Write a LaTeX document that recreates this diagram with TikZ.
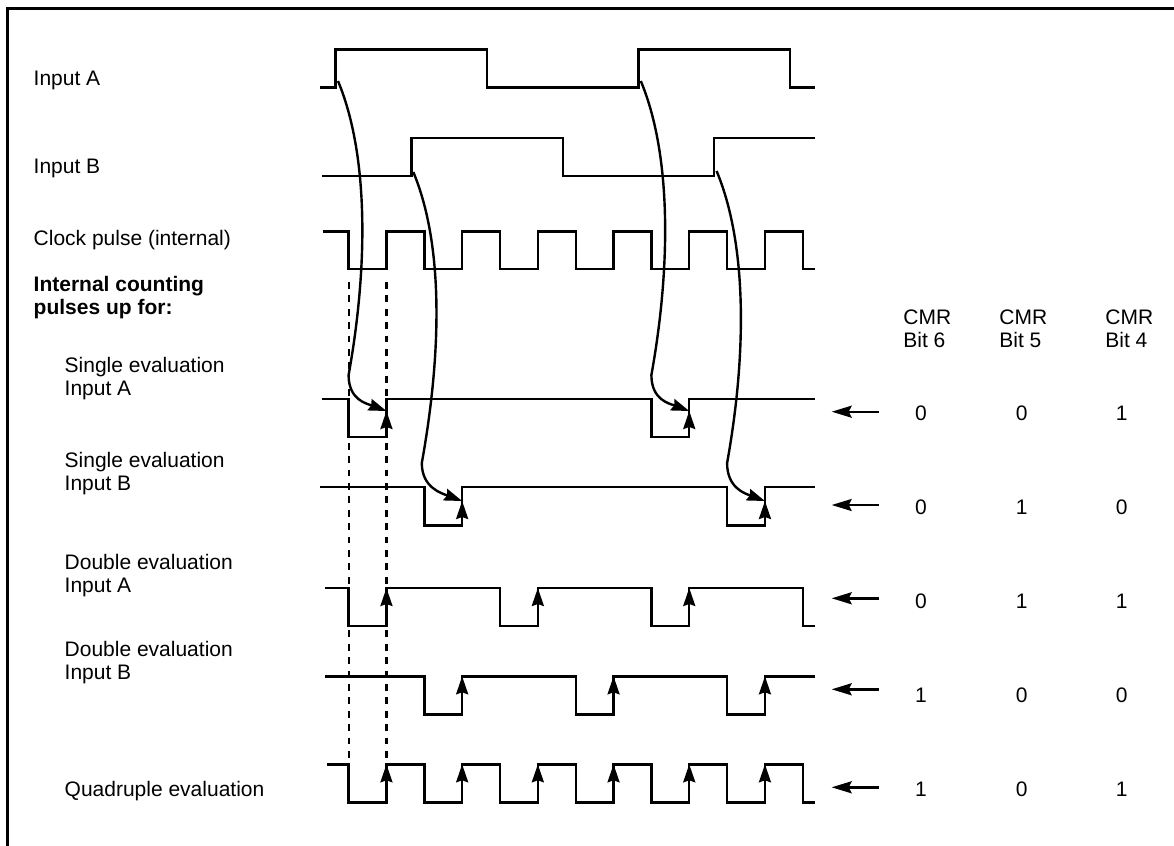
\documentclass[tikz,border=0pt]{standalone}
\usepackage{fontspec}
\setmainfont{Liberation Sans}
\usetikzlibrary{arrows.meta}

\begin{document}
\begin{tikzpicture}[
  x=0.5pt,
  y=-0.5pt,
  font=\fontsize{10.5}{11.5}\selectfont,
  declare function={E(\k)=348.6+37.85*\k;},
  wave/.style={line width=1.2pt},
  boxline/.style={line width=1.4pt},
  guide/.style={line width=1.1pt, dash pattern=on 3.4pt off 3.3pt},
  edgearrow/.style={line width=1.2pt, -{Stealth[length=9pt,width=6pt,inset=1pt]}},
  sweep/.style={line width=1.2pt, line join=round, -{Stealth[length=9pt,width=6pt,inset=1pt]}},
  bitarrow/.style={line width=1.2pt, -{Stealth[length=10pt,width=6pt,inset=1.5pt]}},
  siglabel/.style={anchor=base west, align=left, inner sep=0pt},
  bitval/.style={anchor=base, inner sep=0pt}
]
  \useasboundingbox (0,0) rectangle (1174,846);
  \draw[boxline] (7.7,850) -- (7.7,8.3) -- (1180,8.3);

  % signal names
  \node[siglabel] (lblA) at (33.3,85) {Input A};
  \node[siglabel] (lblB) at (33.3,173.3) {Input B};
  \node[siglabel] (lblclk) at (33.3,245) {Clock pulse (internal)};
  \node[siglabel, font=\fontsize{10.5}{11.5}\selectfont\bfseries] (lblcnt) at (33.3,314.3) {Internal counting\\pulses up for:};
  \node[siglabel] (lblsa) at (64.3,395) {Single evaluation\\Input A};
  \node[siglabel] (lblsb) at (64.3,490.7) {Single evaluation\\Input B};
  \node[siglabel] (lblda) at (64.3,592.3) {Double evaluation\\Input A};
  \node[siglabel] (lbldb) at (64.3,679.3) {Double evaluation\\Input B};
  \node[siglabel] (lblq) at (64.3,796.7) {Quadruple evaluation};

  % inputs and clock
  \draw[wave] (320,87.3) -| ({E(0)-13},49.3) -| ({E(4)-13},87.3) -| ({E(8)-13},49.3) -| ({E(12)-13},87.3) -- (815,87.3);
  \draw[wave] (322,175.7) -| ({E(2)-13},138) -| ({E(6)-13},175.7) -| ({E(10)-13},138) -- (815,138);
  \draw[wave] (322.7,231.3) foreach \k in {0,...,5} { -| ({E(2*\k)},269) -| ({E(2*\k+1)},231.3) } -| ({E(12)},269) -- (815,269);

  % counting pulses
  \draw[wave] (322,399) -| ({E(0)},436.7) -| ({E(1)},399) -| ({E(8)},436.7) -| ({E(9)},399) -- (815,399);
  \draw[wave] (320,486.7) -| ({E(2)},525.3) -| ({E(3)},486.7) -| ({E(10)},525.3) -| ({E(11)},486.7) -- (815,486.7);
  \draw[wave] (325,588) foreach \k in {0,4,8} { -| ({E(\k)},625.7) -| ({E(\k+1)},588) } -| ({E(12)},625.7) -- (815,625.7);
  \draw[wave] (325,676.3) foreach \k in {2,6,10} { -| ({E(\k)},714.3) -| ({E(\k+1)},676.3) } -- (815,676.3);
  \draw[wave] (327,764.3) foreach \k in {0,...,5} { -| ({E(2*\k)},802.3) -| ({E(2*\k+1)},764.3) } -| ({E(12)},802.3) -- (815,802.3);

  \foreach \k in {0,1}
    \draw[guide] ({E(\k)},282) -- ({E(\k)},764);

  \foreach \k in {1,9}
    \draw[edgearrow] ({E(\k)},436.7) -- ({E(\k)},411);
  \foreach \k in {3,11}
    \draw[edgearrow] ({E(\k)},525.3) -- ({E(\k)},501);
  \foreach \k in {1,5,9}
    \draw[edgearrow] ({E(\k)},625.7) -- ({E(\k)},588);
  \foreach \k in {3,7,11}
    \draw[edgearrow] ({E(\k)},714.3) -- ({E(\k)},676.3);
  \foreach \k in {1,3,...,11}
    \draw[edgearrow] ({E(\k)},802.3) -- ({E(\k)},764.3);

  % edges of A and B that trigger a count
  \coordinate (riseA1) at ({E(0)-10.6},81);
  \coordinate (riseA2) at ({E(8)-10.6},81);
  \coordinate (riseB1) at ({E(2)-11},172);
  \coordinate (riseB2) at ({E(10)-10.5},171);
  \coordinate (cntA1) at ({E(1)},411);
  \coordinate (cntA2) at ({E(9)},411);
  \coordinate (cntB1) at ({E(3)},501);
  \coordinate (cntB2) at ({E(11)},501);
  \draw[sweep] (riseA1) .. controls +(30.8,73.8) and +(19.5,-108.2) .. ({E(0)},375) .. controls +(0,25) and +(-20,-7.5) .. (cntA1);
  \draw[sweep] (riseA2) .. controls +(30.8,73.8) and +(19.5,-108.2) .. ({E(8)},375) .. controls +(0,25) and +(-20,-7.5) .. (cntA2);
  \draw[sweep] (riseB1) .. controls +(30.8,73.8) and +(19.5,-108.2) .. ({E(2)-2.5},463) .. controls +(0,25) and +(-20,-7.5) .. (cntB1);
  \draw[sweep] (riseB2) .. controls +(30.8,73.8) and +(19.5,-108.2) .. ({E(10)},463) .. controls +(0,25) and +(-20,-7.5) .. (cntB2);

  % CMR bits
  \node[siglabel] (hd6) at (903,347.3) {CMR\\Bit 6};
  \node[siglabel] (hd5) at (999,347.3) {CMR\\Bit 5};
  \node[siglabel] (hd4) at (1105,347.3) {CMR\\Bit 4};
  \foreach \ay/\by/\p/\q/\r [count=\i] in {411.7/420/0/0/1, 505/514/0/1/0, 598.3/608.3/0/1/1, 689.3/702.7/1/0/0, 787.3/796.7/1/0/1} {
    \node[bitval] (bitsix\i) at (921,\by) {\p};
    \node[bitval] (bitfive\i) at (1021.7,\by) {\q};
    \node[bitval] (bitfour\i) at (1121.7,\by) {\r};
    \draw[bitarrow] (879,\ay) -- (831.7,\ay);
  }
\end{tikzpicture}
\end{document}
